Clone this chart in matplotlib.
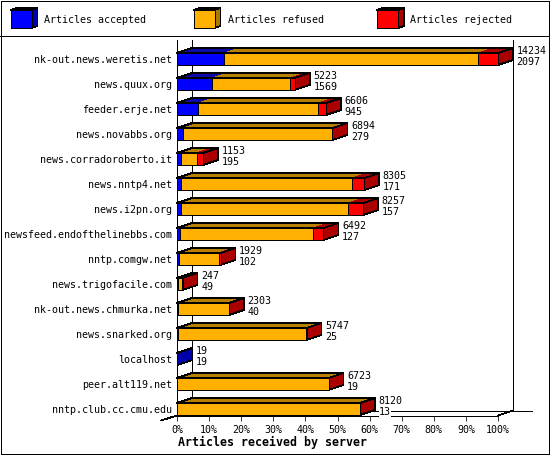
import matplotlib
matplotlib.use("Agg")
import matplotlib.pyplot as plt
from matplotlib.patches import Polygon, Rectangle

hosts = ["nk-out.news.weretis.net", "news.quux.org", "feeder.erje.net", "news.novabbs.org",
         "news.corradoroberto.it", "news.nntp4.net", "news.i2pn.org", "newsfeed.endofthelinebbs.com",
         "nntp.comgw.net", "news.trigofacile.com", "nk-out.news.chmurka.net", "news.snarked.org",
         "localhost", "peer.alt119.net", "nntp.club.cc.cmu.edu"]
totals = [14234, 5223, 6606, 6894, 1153, 8305, 8257, 6492, 1929, 247, 2303, 5747, 19, 6723, 8120]
accepted = [2097, 1569, 945, 279, 195, 171, 157, 127, 102, 49, 40, 25, 19, 19, 13]
# rejected is not printed in the chart, read off the red parts
rejected = [868, 197, 340, 15, 280, 530, 660, 448, 70, 5, 8, 8, 0, 5, 10]

xticks = [0, 10, 20, 30, 40, 50, 60, 70, 80, 90, 100]
series = ["Articles accepted", "Articles refused", "Articles rejected"]
front_cols = ["#0000ff", "#ffb000", "#ff0000"]
top_cols = ["#0a0aaa", "#b88000", "#aa0000"]
side_cols = ["#0000aa", "#aa7700", "#aa0000"]

W, H = 550, 455
plt.rcParams["font.family"] = ["DejaVu Sans Mono"]
plt.rcParams["font.size"] = 7.2
plt.rcParams["text.antialiased"] = True
plt.rcParams["lines.antialiased"] = False
plt.rcParams["patch.antialiased"] = False
LW = 0.55

fig = plt.figure(figsize=(W / 100, H / 100), dpi=100, facecolor="white")

# layer in pixels for frame and legend
bg = fig.add_axes([0, 0, 1, 1])
bg.set_xlim(0, W)
bg.set_ylim(H, 0)
bg.axis("off")
bg.add_patch(Rectangle((0.5, 0.5), W - 1.5, H - 1.5, fc="none", ec="black", lw=LW))
bg.plot([0, W], [35.5, 35.5], color="black", lw=LW)

for name, x, tx, fc, tc, sc in zip(series, [10.5, 193.5, 377], [44.5, 227.5, 410.5], front_cols, top_cols, side_cols):
    bg.add_patch(Polygon([(x, 10), (x + 6, 8), (x + 27, 8), (x + 21, 10)], fc=tc, ec="black", lw=LW))
    bg.add_patch(Polygon([(x + 21, 10), (x + 27, 8), (x + 27, 26), (x + 21, 28)], fc=sc, ec="black", lw=LW))
    bg.add_patch(Rectangle((x, 10), 21, 18, fc=fc, ec="black", lw=LW))
    bg.text(tx, 20, name, ha="left", va="center", fontsize=7.2)

# front plane of the chart
ax = fig.add_axes([177 / W, (H - 415.5) / H, 321 / W, 375.5 / H])
ax.patch.set_alpha(0)
ax.set_xlim(0, 100)
ax.set_ylim((415.5 - 59) / 25, (40 - 59) / 25)
dx = 15 * 100 / 321
dy = -5 / 25
half = 6 / 25
ymin, ymax = ax.get_ylim()

for s in ["top", "right"]:
    ax.spines[s].set_visible(False)
ax.spines["left"].set_linewidth(LW)
ax.spines["bottom"].set_linewidth(LW)
ax.set_xticks(xticks)
ax.set_xticklabels([str(t) + "%" for t in xticks])
ax.set_yticks(range(len(hosts)))
ax.set_yticklabels(hosts)
ax.tick_params(axis="x", length=3.6, width=LW, pad=3, labelsize=7.2)
ax.tick_params(axis="y", length=0, pad=3.6, labelsize=7.2)
ax.set_xlabel("Articles received by server", fontsize=8.4, fontweight="bold")
ax.xaxis.set_label_coords(0.298, -0.055)

# back wall and floor lines
back = dict(color="black", lw=LW, clip_on=False, zorder=1)
ax.plot([dx, dx], [ymin + dy, ymax], **back)
ax.plot([100 + dx, 100 + dx], [ymin + dy, ymax], **back)
ax.plot([dx, 100 + dx + 19 * 100 / 321], [ymin + dy, ymin + dy], **back)
ax.plot([100, 100 + dx], [ymin, ymin + dy], **back)
ax.plot([-16 * 100 / 321, 0], [ymin + 5 / 25, ymin], **back)

scale = 100 / max(totals)
for i, host in enumerate(hosts):
    refused = totals[i] - accepted[i] - rejected[i]
    parts = [accepted[i], refused, rejected[i]]
    top_y = i - half
    bot_y = i + half
    left = 0
    last = 0
    for k, val in enumerate(parts):
        if val <= 0:
            continue
        w = val * scale
        ax.add_patch(Polygon([(left, top_y), (left + dx, top_y + dy), (left + w + dx, top_y + dy), (left + w, top_y)],
                             fc=top_cols[k], ec="none", clip_on=False, zorder=3))
        left += w
        last = k
    end = left
    ax.add_patch(Polygon([(0, top_y), (dx, top_y + dy), (end + dx, top_y + dy), (end, top_y)],
                         fc="none", ec="black", lw=LW, clip_on=False, zorder=3.1))
    ax.add_patch(Polygon([(end, top_y), (end + dx, top_y + dy), (end + dx, bot_y + dy), (end, bot_y)],
                         fc=side_cols[last], ec="black", lw=LW, clip_on=False, zorder=3.2))
    left = 0
    for k, val in enumerate(parts):
        if val <= 0:
            continue
        w = val * scale
        ax.add_patch(Rectangle((left, top_y), w, 2 * half, fc=front_cols[k], ec="black", lw=LW,
                               clip_on=False, zorder=3.3))
        left += w
    lx = end + 18.5 * 100 / 321
    box = dict(fc="white", ec="none", pad=0)
    ax.text(lx, i - 8 / 25, str(totals[i]), ha="left", va="center", zorder=4, clip_on=False, bbox=box)
    ax.text(lx, i + 3 / 25, str(accepted[i]), ha="left", va="center", zorder=4, clip_on=False, bbox=box)

fig.savefig("out.png", dpi=100, facecolor="white")
